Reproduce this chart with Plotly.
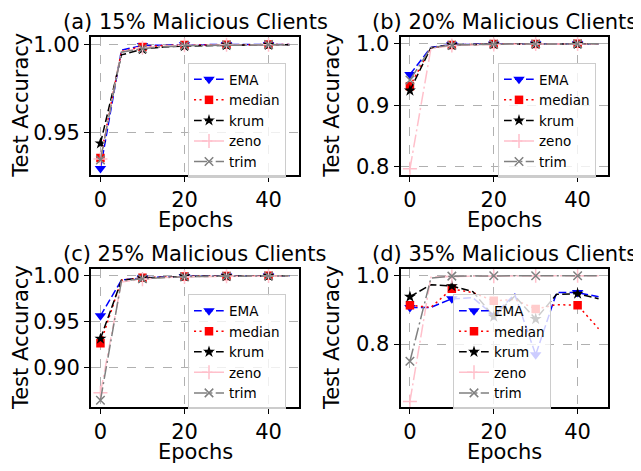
import plotly.graph_objects as go

epochs = [0, 5, 10, 15, 20, 25, 30, 35, 40, 45]
methods = ["EMA", "median", "krum", "zeno", "trim"]
panel_titles = ["(a) 15% Malicious Clients", "(b) 20% Malicious Clients",
                "(c) 25% Malicious Clients", "(d) 35% Malicious Clients"]

# panel (a) 15%
a_ema = [0.9296, 0.9967, 0.9993, 0.9996, 0.9998, 0.9998, 0.9999, 0.9999, 0.9999, 0.9999]
a_median = [0.9356, 0.9962, 0.9985, 0.9993, 0.9996, 0.9997, 0.9998, 0.9998, 0.9999, 0.9999]
a_krum = [0.9439, 0.9940, 0.9972, 0.9985, 0.9990, 0.9993, 0.9995, 0.9996, 0.9997, 0.9998]
a_zeno = [0.9350, 0.9958, 0.9980, 0.9990, 0.9994, 0.9996, 0.9997, 0.9998, 0.9998, 0.9999]
a_trim = [0.9345, 0.9955, 0.9975, 0.9986, 0.9992, 0.9994, 0.9996, 0.9997, 0.9998, 0.9998]

# panel (b) 20%
b_ema = [0.950, 0.9940, 0.9985, 0.9992, 0.9995, 0.9996, 0.9997, 0.9998, 0.9998, 0.9998]
b_median = [0.931, 0.9935, 0.9980, 0.9990, 0.9994, 0.9995, 0.9996, 0.9997, 0.9998, 0.9998]
b_krum = [0.924, 0.9935, 0.9978, 0.9988, 0.9993, 0.9995, 0.9996, 0.9997, 0.9997, 0.9998]
b_zeno = [0.797, 0.9920, 0.9970, 0.9982, 0.9988, 0.9992, 0.9994, 0.9995, 0.9996, 0.9997]
b_trim = [0.941, 0.9935, 0.9975, 0.9987, 0.9992, 0.9994, 0.9996, 0.9997, 0.9997, 0.9998]

# panel (c) 25%
c_ema = [0.9564, 0.9950, 0.9975, 0.9985, 0.9990, 0.9992, 0.9994, 0.9995, 0.9996, 0.9997]
c_median = [0.9266, 0.9950, 0.9975, 0.9985, 0.9990, 0.9992, 0.9994, 0.9995, 0.9996, 0.9997]
c_krum = [0.9316, 0.9948, 0.9972, 0.9984, 0.9989, 0.9992, 0.9994, 0.9995, 0.9996, 0.9997]
c_zeno = [0.873, 0.9930, 0.9960, 0.9978, 0.9985, 0.9989, 0.9991, 0.9993, 0.9994, 0.9995]
c_trim = [0.865, 0.9940, 0.9965, 0.9980, 0.9987, 0.9990, 0.9992, 0.9994, 0.9995, 0.9996]

# panel (d) 35%
d_ema = [0.907, 0.907, 0.932, 0.935, 0.884, 0.945, 0.769, 0.950, 0.950, 0.938]
d_median = [0.913, 0.907, 0.961, 0.950, 0.926, 0.930, 0.902, 0.915, 0.913, 0.845]
d_krum = [0.938, 0.973, 0.969, 0.953, 0.880, 0.940, 0.873, 0.945, 0.947, 0.932]
d_zeno = [0.633, 0.995, 0.997, 0.998, 0.998, 0.999, 0.999, 0.999, 0.999, 0.999]
d_trim = [0.750, 0.992, 0.998, 0.999, 0.999, 0.999, 0.999, 0.999, 0.999, 0.999]

panels = [
    [a_ema, a_median, a_krum, a_zeno, a_trim],
    [b_ema, b_median, b_krum, b_zeno, b_trim],
    [c_ema, c_median, c_krum, c_zeno, c_trim],
    [d_ema, d_median, d_krum, d_zeno, d_trim],
]
ytick_vals = [[0.95, 1.00], [0.8, 0.9, 1.0], [0.90, 0.95, 1.00], [0.8, 1.0]]
ytick_text = [["0.95", "1.00"], ["0.8", "0.9", "1.0"], ["0.90", "0.95", "1.00"], ["0.8", "1.0"]]
xtick_vals = [0, 20, 40]

# the page body has an 8px margin; lay out in screen pixels and shift
OFF = 8
W, H = 641 - OFF, 471 - OFF
FONT = "DejaVu Sans"

styles = {
    "EMA": dict(color="blue", dash="7.7px,3.3px", symbol="triangle-down", size=10, thin=False),
    "median": dict(color="red", dash="2.1px,3.4px", symbol="square", size=8.5, thin=False),
    "krum": dict(color="black", dash="7.7px,3.3px", symbol="star", size=9, thin=False),
    "zeno": dict(color="pink", dash="13px,3.3px,2.1px,3.3px", symbol="cross-thin", size=10, thin=True),
    "trim": dict(color="gray", dash="13px,3.3px,2.1px,3.3px", symbol="x-thin", size=8.5, thin=True),
}

# screen-pixel boxes of each panel: (left, right, top, bottom)
boxes = [(91, 299, 32, 173), (400.5, 608, 32, 173), (91, 299, 269, 410), (400.5, 608, 269, 410)]
yranges = [[0.9261, 1.0044], [0.7873, 1.0116], [0.8575, 1.0071], [0.6163, 1.019]]
legend_pos = [(188, 59), (498, 59), (188, 295), (453, 295)]


def px(xs):
    return (xs - OFF) / W


def py(ys):
    return 1 - (ys - OFF) / H


fig = go.Figure()
layout = dict(width=W, height=H, margin=dict(l=0, r=0, t=0, b=0),
              paper_bgcolor="white", plot_bgcolor="white", showlegend=True,
              font=dict(family=FONT, color="black"))
annotations = []

for p in range(4):
    sfx = "" if p == 0 else str(p + 1)
    xa, ya = "x" + sfx, "y" + sfx
    leg = "legend" + sfx
    l, r, t, b = boxes[p]
    for m, vals in zip(methods, panels[p]):
        s = styles[m]
        fig.add_trace(go.Scatter(x=epochs, y=vals, mode="lines", xaxis=xa, yaxis=ya,
                                 line=dict(color=s["color"], width=1.5, dash=s["dash"]),
                                 showlegend=False, hoverinfo="skip"))
        mk = dict(symbol=s["symbol"], size=s["size"], color=s["color"])
        if s["thin"]:
            mk["line"] = dict(color=s["color"], width=1.5)
        else:
            mk["line"] = dict(width=0)
        fig.add_trace(go.Scatter(x=epochs[::2], y=vals[::2], mode="markers", xaxis=xa, yaxis=ya,
                                 marker=mk, showlegend=False, hoverinfo="skip"))
        fig.add_trace(go.Scatter(x=[None], y=[None], mode="lines+markers", xaxis=xa, yaxis=ya,
                                 name=m, line=dict(color=s["color"], width=1.5, dash=s["dash"]),
                                 marker=mk, legend=leg, showlegend=True))
    axcommon = dict(showline=True, linecolor="black", linewidth=1.8, mirror=True,
                    ticks="outside", ticklen=5, tickwidth=1.2, tickcolor="black",
                    showgrid=True, gridcolor="#b0b0b0", griddash="dash", gridwidth=0.8,
                    zeroline=False, tickfont=dict(family=FONT, size=21, color="black"))
    layout["xaxis" + sfx] = dict(domain=[px(l), px(r)], range=[-2.25, 47.25], anchor=ya,
                                 tickvals=xtick_vals, ticktext=[str(v) for v in xtick_vals], **axcommon)
    layout["yaxis" + sfx] = dict(domain=[py(b), py(t)], range=yranges[p], anchor=xa,
                                 tickvals=ytick_vals[p], ticktext=ytick_text[p], **axcommon)
    lx, ly = legend_pos[p]
    layout[leg] = dict(x=px(lx), y=py(ly), xanchor="left", yanchor="top",
                       bgcolor="rgba(255,255,255,0.8)", bordercolor="#cccccc", borderwidth=1,
                       font=dict(family=FONT, size=13.5, color="black"),
                       itemwidth=30, tracegroupgap=0)
    cx = px((l + r) / 2)
    annotations.append(dict(text=panel_titles[p], x=cx, y=py(t), xref="paper", yref="paper",
                            xanchor="center", yanchor="bottom", yshift=1, showarrow=False,
                            font=dict(family=FONT, size=21, color="black")))
    annotations.append(dict(text="Epochs", x=cx, y=py(b + 46), xref="paper", yref="paper",
                            xanchor="center", yanchor="middle", showarrow=False,
                            font=dict(family=FONT, size=21, color="black")))
    ylx = 21 if p in (0, 2) else 332
    annotations.append(dict(text="Test Accuracy", x=px(ylx), y=py((t + b) / 2),
                            xref="paper", yref="paper", xanchor="center", yanchor="middle",
                            textangle=-90, showarrow=False,
                            font=dict(family=FONT, size=21, color="black")))

layout["annotations"] = annotations
fig.update_layout(**layout)
fig.write_html("out.html")
